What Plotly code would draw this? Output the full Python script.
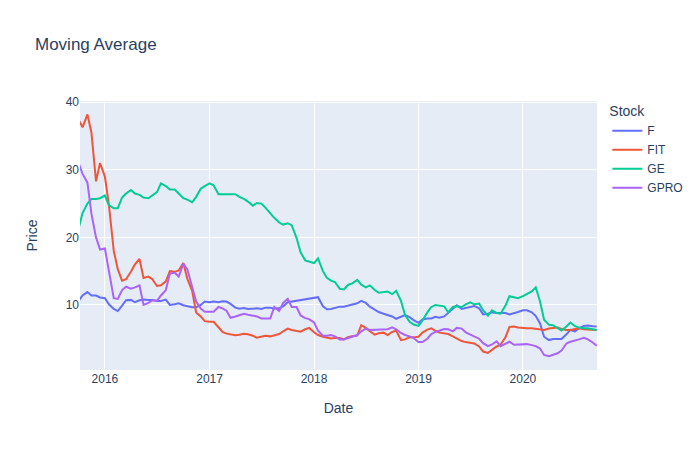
import pandas as pd
import plotly.graph_objects as go

# semi-monthly sample dates (1st and 15th), Oct 2015 - Sep 2020
dates = pd.date_range(start="2015-10-01", end="2020-09-15", freq="SMS")

stocks = ["F", "FIT", "GE", "GPRO"]

F = [
    10.6, 11.4, 11.9, 11.4, 11.4, 11.1,
    11.0, 10.1, 9.4, 9.1, 9.9, 10.7, 10.75, 10.4, 10.7, 10.8, 10.75, 10.75,
    10.6, 10.6, 10.8, 10.0, 10.1, 10.25, 9.95, 9.8, 9.65, 9.65, 10.0, 10.5,
    10.4, 10.5, 10.4, 10.55, 10.5, 10.15, 9.6, 9.45, 9.55, 9.4, 9.5, 9.5,
    9.4, 9.6, 9.6, 9.45, 9.5, 9.8, 10.4, 10.5, 10.7, 10.75, 10.9, 11.0,
    11.05, 11.15, 9.8, 9.35, 9.4, 9.55, 9.75, 9.75, 9.95, 10.05, 10.25, 10.6,
    10.3, 9.75, 9.25, 8.95, 8.7, 8.5, 8.3, 7.95, 8.3, 8.5, 8.2, 7.75,
    7.35, 7.85, 8.0, 8.0, 8.25, 8.1, 8.3, 8.8, 9.5, 9.95, 9.4, 9.55,
    9.7, 9.85, 9.5, 8.6, 8.7, 8.9, 8.85, 8.8, 8.8, 8.6, 8.75, 8.95,
    9.2, 9.2, 8.9, 8.35, 7.25, 5.3, 4.8, 4.95, 4.95, 4.95, 5.65, 6.3,
    6.1, 6.55, 6.9, 6.95, 6.85, 6.8,
]

FIT = [
    37.4, 36.3, 38.2, 35.5, 28.3, 31.0,
    29.0, 24.8, 18.0, 15.3, 13.6, 13.8, 14.9, 16.0, 16.8, 14.0, 14.2, 13.8,
    12.8, 12.9, 13.5, 15.0, 14.9, 15.1, 16.2, 13.9, 12.1, 8.9, 8.3, 7.6,
    7.5, 7.5, 6.7, 6.0, 5.75, 5.65, 5.5, 5.6, 5.75, 5.65, 5.45, 5.15,
    5.25, 5.45, 5.35, 5.55, 5.7, 6.1, 6.5, 6.3, 6.1, 6.05, 6.4, 6.6,
    5.95, 5.55, 5.3, 5.2, 5.05, 5.1, 5.1, 4.9, 5.25, 5.35, 5.45, 7.0,
    6.6, 6.1, 5.6, 5.8, 5.9, 5.55, 6.0, 6.2, 4.8, 4.9, 5.2, 5.2,
    5.3, 5.9, 6.35, 6.55, 6.15, 5.9, 5.8, 5.7, 5.35, 5.0, 4.65, 4.5,
    4.35, 4.3, 3.85, 3.1, 2.9, 3.35, 3.85, 4.1, 5.2, 6.75, 6.8, 6.65,
    6.55, 6.55, 6.55, 6.5, 6.4, 6.3, 6.5, 6.6, 6.65, 6.45, 6.3, 6.3,
    6.45, 6.55, 6.4, 6.35, 6.3, 6.3,
]

GE = [
    21.3, 23.6, 25.0, 25.7, 25.7, 25.8,
    26.2, 24.8, 24.3, 24.3, 25.9, 26.5, 27.0, 26.5, 26.3, 25.9, 25.8, 26.2,
    26.7, 28.0, 27.6, 27.1, 27.1, 26.5, 25.8, 25.6, 25.2, 26.0, 27.2, 27.6,
    28.0, 27.7, 26.4, 26.4, 26.4, 26.4, 26.4, 26.0, 25.7, 25.3, 24.7, 25.1,
    25.0, 24.4, 23.5, 22.9, 22.2, 21.9, 22.1, 21.8, 19.9, 17.8, 16.6, 16.4,
    16.2, 16.9, 15.0, 14.0, 13.6, 13.4, 12.4, 12.3, 13.0, 13.2, 13.7, 13.0,
    12.6, 12.9, 12.2, 11.8, 11.9, 12.0, 11.6, 12.1, 10.6, 8.5, 7.5, 7.1,
    6.9, 7.7, 8.9, 9.7, 10.0, 9.9, 9.8, 8.9, 9.7, 9.8, 9.7, 10.1,
    10.4, 10.1, 10.2, 9.2, 8.4, 9.2, 8.8, 8.7, 9.9, 11.3, 11.2, 11.0,
    11.3, 11.6, 12.0, 12.6, 10.5, 7.8, 7.05, 7.0, 6.55, 6.2, 6.8, 7.4,
    6.85, 6.65, 6.55, 6.55, 6.4, 6.3,
]

GPRO = [
    31.0, 29.4, 28.1, 23.5, 20.0, 18.2,
    18.35, 15.2, 11.0, 10.9, 12.2, 12.7, 12.4, 12.6, 12.9, 10.0, 10.3, 10.7,
    10.6, 11.4, 12.2, 14.6, 14.8, 14.2, 16.1, 15.3, 12.6, 10.5, 9.45, 9.0,
    9.0, 9.0, 9.7, 9.5, 9.15, 8.1, 8.3, 8.45, 8.7, 8.55, 8.4, 8.3,
    8.0, 8.0, 8.0, 9.7, 9.1, 10.3, 10.9, 9.7, 9.7, 8.45, 8.05, 7.9,
    7.4, 6.2, 5.45, 5.45, 5.55, 5.35, 4.9, 4.9, 5.1, 5.25, 5.55, 6.1,
    6.5, 6.3, 6.3, 6.3, 6.3, 6.4, 6.7, 6.4, 5.85, 5.55, 5.35, 5.1,
    4.5, 4.5, 5.0, 5.7, 6.0, 6.2, 6.45, 6.4, 6.1, 6.6, 6.5, 5.95,
    5.65, 5.4, 5.0, 4.35, 3.9, 4.15, 4.6, 3.9, 4.2, 4.55, 4.1, 4.15,
    4.2, 4.2, 4.05, 3.9, 3.55, 2.6, 2.4, 2.6, 2.85, 3.25, 4.3, 4.55,
    4.7, 4.9, 5.15, 4.9, 4.45, 3.95,
]

series = {"F": F, "FIT": FIT, "GE": GE, "GPRO": GPRO}
colors = {"F": "#636efa", "FIT": "#EF553B", "GE": "#00cc96", "GPRO": "#ab63fa"}

fig = go.Figure()
for s in stocks:
    fig.add_trace(go.Scatter(
        x=dates, y=series[s], mode="lines", name=s,
        line=dict(color=colors[s], width=2),
    ))

fig.update_layout(
    template="plotly",
    width=692, height=442,
    margin=dict(l=72, r=80, t=93, b=80),
    font=dict(family="Liberation Sans, Arial, sans-serif", size=12, color="#2a3f5f"),
    title=dict(text="Moving Average", x=0.039, xanchor="left",
               y=0.919, yanchor="middle", font=dict(size=17)),
    legend=dict(title=dict(text="Stock"), y=1.011),
    xaxis=dict(title=dict(text="Date", standoff=18), automargin=False,
               range=["2015-10-06", "2020-09-16"]),
    yaxis=dict(title=dict(text="Price", standoff=24), automargin=False,
               range=[0.37, 40.19]),
)

fig.write_html("out.html")
